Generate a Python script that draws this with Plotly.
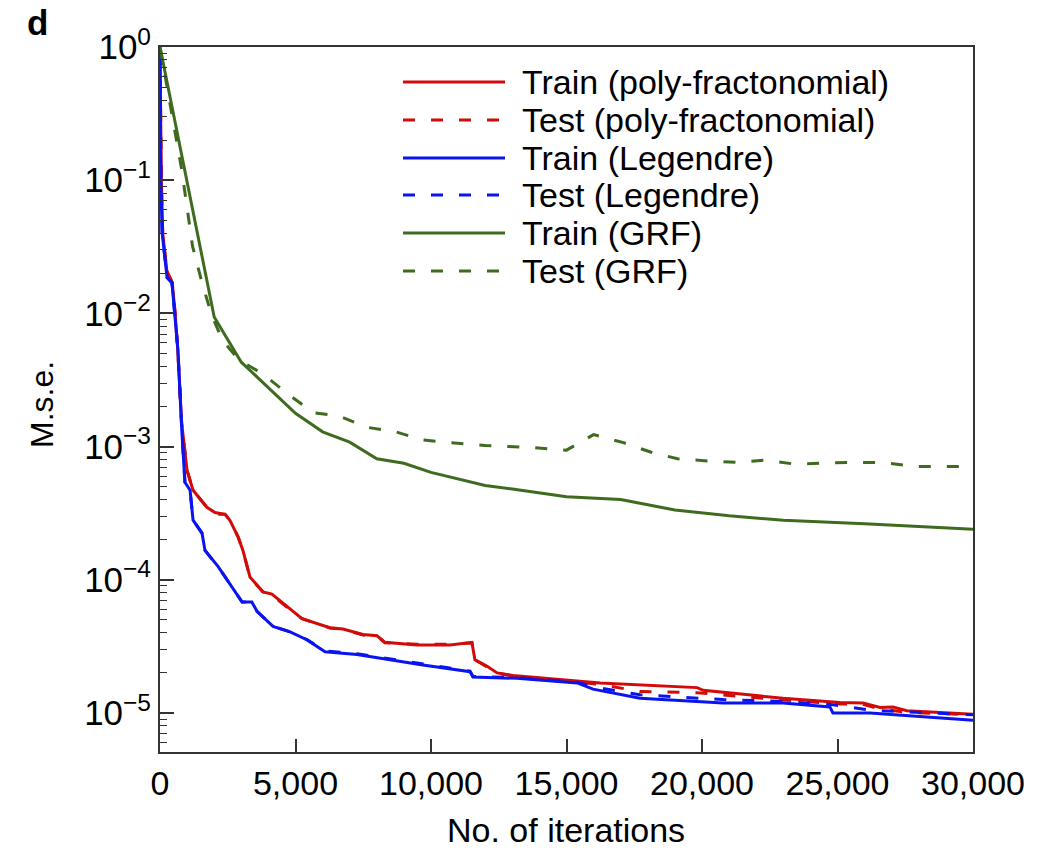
import plotly.graph_objects as go

# ---------------- data ----------------
grf_train_x = [0, 2000, 3000, 5000, 6000, 7000, 8000, 9000, 10000, 12000, 13000, 15000,
               17000, 19000, 21000, 23000, 26000, 30000]
grf_train_y = [1.0, 0.0094, 0.0043, 0.00178, 0.00129, 0.00108, 0.00081, 0.00075, 0.00064,
               0.00051, 0.00048, 0.00042, 0.00040, 0.000334, 0.000302, 0.00028, 0.000263, 0.00024]

grf_test_x = [0, 400, 800, 1200, 1550, 1900, 2300, 2900, 3800, 4700, 5650, 6600, 7600, 8700,
              9700, 10700, 12000, 13500, 15000, 16000, 17100, 18100, 19100, 20200, 21300,
              22300, 23400, 25400, 26700, 27800, 30000]
grf_test_y = [1.0, 0.34, 0.12, 0.032, 0.017, 0.0098, 0.0063, 0.0045, 0.0035, 0.0025, 0.0018,
              0.0017, 0.0014, 0.00129, 0.00112, 0.00107, 0.00102, 0.00099, 0.00094, 0.00123,
              0.00107, 0.00091, 0.00081, 0.00078, 0.00076, 0.00079, 0.00074, 0.00076, 0.00076,
              0.00071, 0.00071]

pf_train_x = [0, 50, 100, 250, 450, 550, 650, 800, 1000, 1220, 1730, 2030, 2400, 2580, 2880,
              3060, 3320, 3800, 4130, 4690, 5240, 6270, 6750, 7490, 8010, 8300, 9480, 10700,
              11510, 11620, 12070, 12440, 13020, 15390, 16240, 19820, 20040, 22990, 25090,
              25940, 26570, 27050, 27560, 30000]
pf_train_y = [0.9, 0.1, 0.04, 0.021, 0.017, 0.0105, 0.0055, 0.0015, 0.00066, 0.00047, 0.00035,
              0.00032, 0.00031, 0.00028, 0.00021, 0.000166, 0.000105, 0.000081, 0.000078,
              0.000063, 0.000051, 0.0000437, 0.0000427, 0.0000389, 0.000038, 0.0000339,
              0.0000324, 0.0000324, 0.0000339, 0.0000251, 0.0000224, 0.00002, 0.0000191,
              0.0000174, 0.0000168, 0.0000155, 0.0000148, 0.0000129, 0.000012, 0.0000119,
              0.000011, 0.0000111, 0.0000104, 0.0000098]

pf_test_x = [0, 50, 100, 250, 450, 550, 650, 800, 1000, 1220, 1730, 2030, 2400, 2580, 2880,
             3060, 3320, 3800, 4130, 4690, 5240, 6270, 6750, 7490, 8010, 8300, 9480, 10700,
             11510, 11620, 12070, 12440, 13020, 15390, 16240, 17700, 19800, 22990, 25090,
             25940, 26570, 27560, 30000]
pf_test_y = [0.9, 0.1, 0.04, 0.021, 0.017, 0.0105, 0.0055, 0.0015, 0.00066, 0.00047, 0.00035,
             0.00031, 0.00031, 0.00028, 0.00021, 0.000166, 0.000104, 0.000081, 0.000077,
             0.000062, 0.000051, 0.0000435, 0.0000425, 0.0000385, 0.0000378, 0.0000337,
             0.0000328, 0.0000328, 0.0000335, 0.0000251, 0.0000222, 0.0000199, 0.000019,
             0.0000172, 0.0000164, 0.0000145, 0.0000142, 0.0000125, 0.0000117, 0.0000116,
             0.0000107, 0.0000101, 0.0000097]

leg_train_x = [0, 30, 80, 260, 440, 550, 660, 810, 920, 1110, 1220, 1550, 1660, 2140, 2770,
               3030, 3390, 3580, 4170, 4800, 5420, 6090, 7270, 8490, 9700, 11440, 11550,
               13170, 15390, 15980, 17710, 20780, 22990, 24720, 24830, 26200, 30000]
leg_train_y = [0.9, 0.1, 0.04, 0.0186, 0.017, 0.01, 0.0054, 0.00126, 0.00054, 0.00047,
               0.00028, 0.000224, 0.000166, 0.000126, 0.000081, 0.000068, 0.000068,
               0.000058, 0.0000447, 0.0000407, 0.0000355, 0.0000288, 0.0000275, 0.0000251,
               0.0000229, 0.0000204, 0.0000186, 0.0000182, 0.0000168, 0.0000151, 0.0000129,
               0.0000119, 0.0000119, 0.0000111, 0.00001, 0.00001, 0.0000088]

leg_test_x = [0, 30, 80, 260, 440, 550, 660, 810, 920, 1110, 1220, 1550, 1660, 2140, 2770,
              3030, 3390, 3580, 4170, 4800, 5420, 6090, 7270, 8490, 9700, 11440, 11550,
              13170, 15390, 15980, 17710, 20780, 22990, 24720, 26200, 30000]
leg_test_y = [0.9, 0.1, 0.04, 0.0186, 0.017, 0.01, 0.0054, 0.00126, 0.00054, 0.00047,
              0.00028, 0.000224, 0.000166, 0.000126, 0.000081, 0.000068, 0.000068,
              0.000058, 0.0000447, 0.0000407, 0.0000355, 0.0000292, 0.0000278, 0.0000254,
              0.0000232, 0.0000206, 0.0000188, 0.0000184, 0.0000170, 0.0000157, 0.0000137,
              0.0000126, 0.0000122, 0.0000116, 0.0000105, 0.0000097]

labels = ["Train (poly-fractonomial)", "Test (poly-fractonomial)", "Train (Legendre)",
          "Test (Legendre)", "Train (GRF)", "Test (GRF)"]

y_tickvals = [1, 1e-1, 1e-2, 1e-3, 1e-4, 1e-5]
y_ticktext = ["10<sup>0</sup>", "10<sup>\u22121</sup>", "10<sup>\u22122</sup>",
              "10<sup>\u22123</sup>", "10<sup>\u22124</sup>", "10<sup>\u22125</sup>"]
x_tickvals = [0, 5000, 10000, 15000, 20000, 25000, 30000]
x_ticktext = ["0", "5,000", "10,000", "15,000", "20,000", "25,000", "30,000"]

RED = "#d20a0a"
BLUE = "#0a14f0"
GREEN = "#3f6b1f"
DASH = "12px,16px"
LW = 3

series = [
    (pf_train_x, pf_train_y, RED, "solid"),
    (pf_test_x, pf_test_y, RED, DASH),
    (leg_train_x, leg_train_y, BLUE, "solid"),
    (leg_test_x, leg_test_y, BLUE, DASH),
    (grf_train_x, grf_train_y, GREEN, "solid"),
    (grf_test_x, grf_test_y, GREEN, DASH),
]

fig = go.Figure()
for (xs, ys, col, dash), name in zip(series, labels):
    fig.add_trace(go.Scatter(x=xs, y=ys, mode="lines", name=name, showlegend=False,
                             line=dict(color=col, width=LW, dash=dash)))

FONT = "Liberation Sans, Arial, Helvetica, sans-serif"

# geometry helpers (plot area pixel -> paper)
L, R, T, B = 160, 973, 47, 752
def px(x):
    return (x - L) / (R - L)
def py(y):
    return (B - y) / (B - T)

shapes = []
annotations = []
rows_y = [82, 120, 158, 195, 233, 271]
for (xs, ys, col, dash), name, ry in zip(series, labels, rows_y):
    shapes.append(dict(type="line", xref="paper", yref="paper",
                       x0=px(403), x1=px(505), y0=py(ry), y1=py(ry),
                       line=dict(color=col, width=LW, dash=dash)))
    annotations.append(dict(text=name, xref="paper", yref="paper", x=px(520), y=py(ry),
                            xanchor="left", yanchor="middle", showarrow=False,
                            font=dict(size=34, color="black", family=FONT)))

annotations.append(dict(text="<b>d</b>", xref="paper", yref="paper", x=px(25), y=py(23),
                        xanchor="left", yanchor="middle", showarrow=False,
                        font=dict(size=35, color="black", family=FONT)))
annotations.append(dict(text="M.s.e.", xref="paper", yref="paper", x=px(42), y=py(405),
                        xanchor="center", yanchor="middle", textangle=-90, showarrow=False,
                        font=dict(size=32, color="black", family=FONT)))
annotations.append(dict(text="No. of iterations", xref="paper", yref="paper", x=px(566),
                        y=py(830), xanchor="center", yanchor="middle", showarrow=False,
                        font=dict(size=34, color="black", family=FONT)))

minor_vals = [m * 10 ** e for e in range(-6, 0) for m in range(2, 10)]

fig.update_layout(
    width=1051, height=852,
    margin=dict(l=L, r=1051 - R, t=T, b=852 - B),
    paper_bgcolor="white", plot_bgcolor="white",
    font=dict(family=FONT, color="black"),
    shapes=shapes, annotations=annotations,
)
fig.update_xaxes(
    range=[0, 30000], tickvals=x_tickvals, ticktext=x_ticktext,
    ticks="inside", ticklen=13, tickwidth=1.5, tickcolor="#333",
    showline=True, linecolor="#333", linewidth=2, mirror=True,
    showgrid=False, zeroline=False, tickfont=dict(size=34, family=FONT),
)
fig.update_yaxes(
    type="log", range=[-5.293, 0], tickvals=y_tickvals, ticktext=y_ticktext,
    ticks="inside", ticklen=14, tickwidth=1.5, tickcolor="#333",
    minor=dict(tickvals=minor_vals, ticks="inside", ticklen=7, tickwidth=1.2,
               tickcolor="#333", showgrid=False),
    showline=True, linecolor="#333", linewidth=2, mirror=True,
    showgrid=False, zeroline=False, tickfont=dict(size=35, family=FONT),
)

fig.write_html("out.html")
